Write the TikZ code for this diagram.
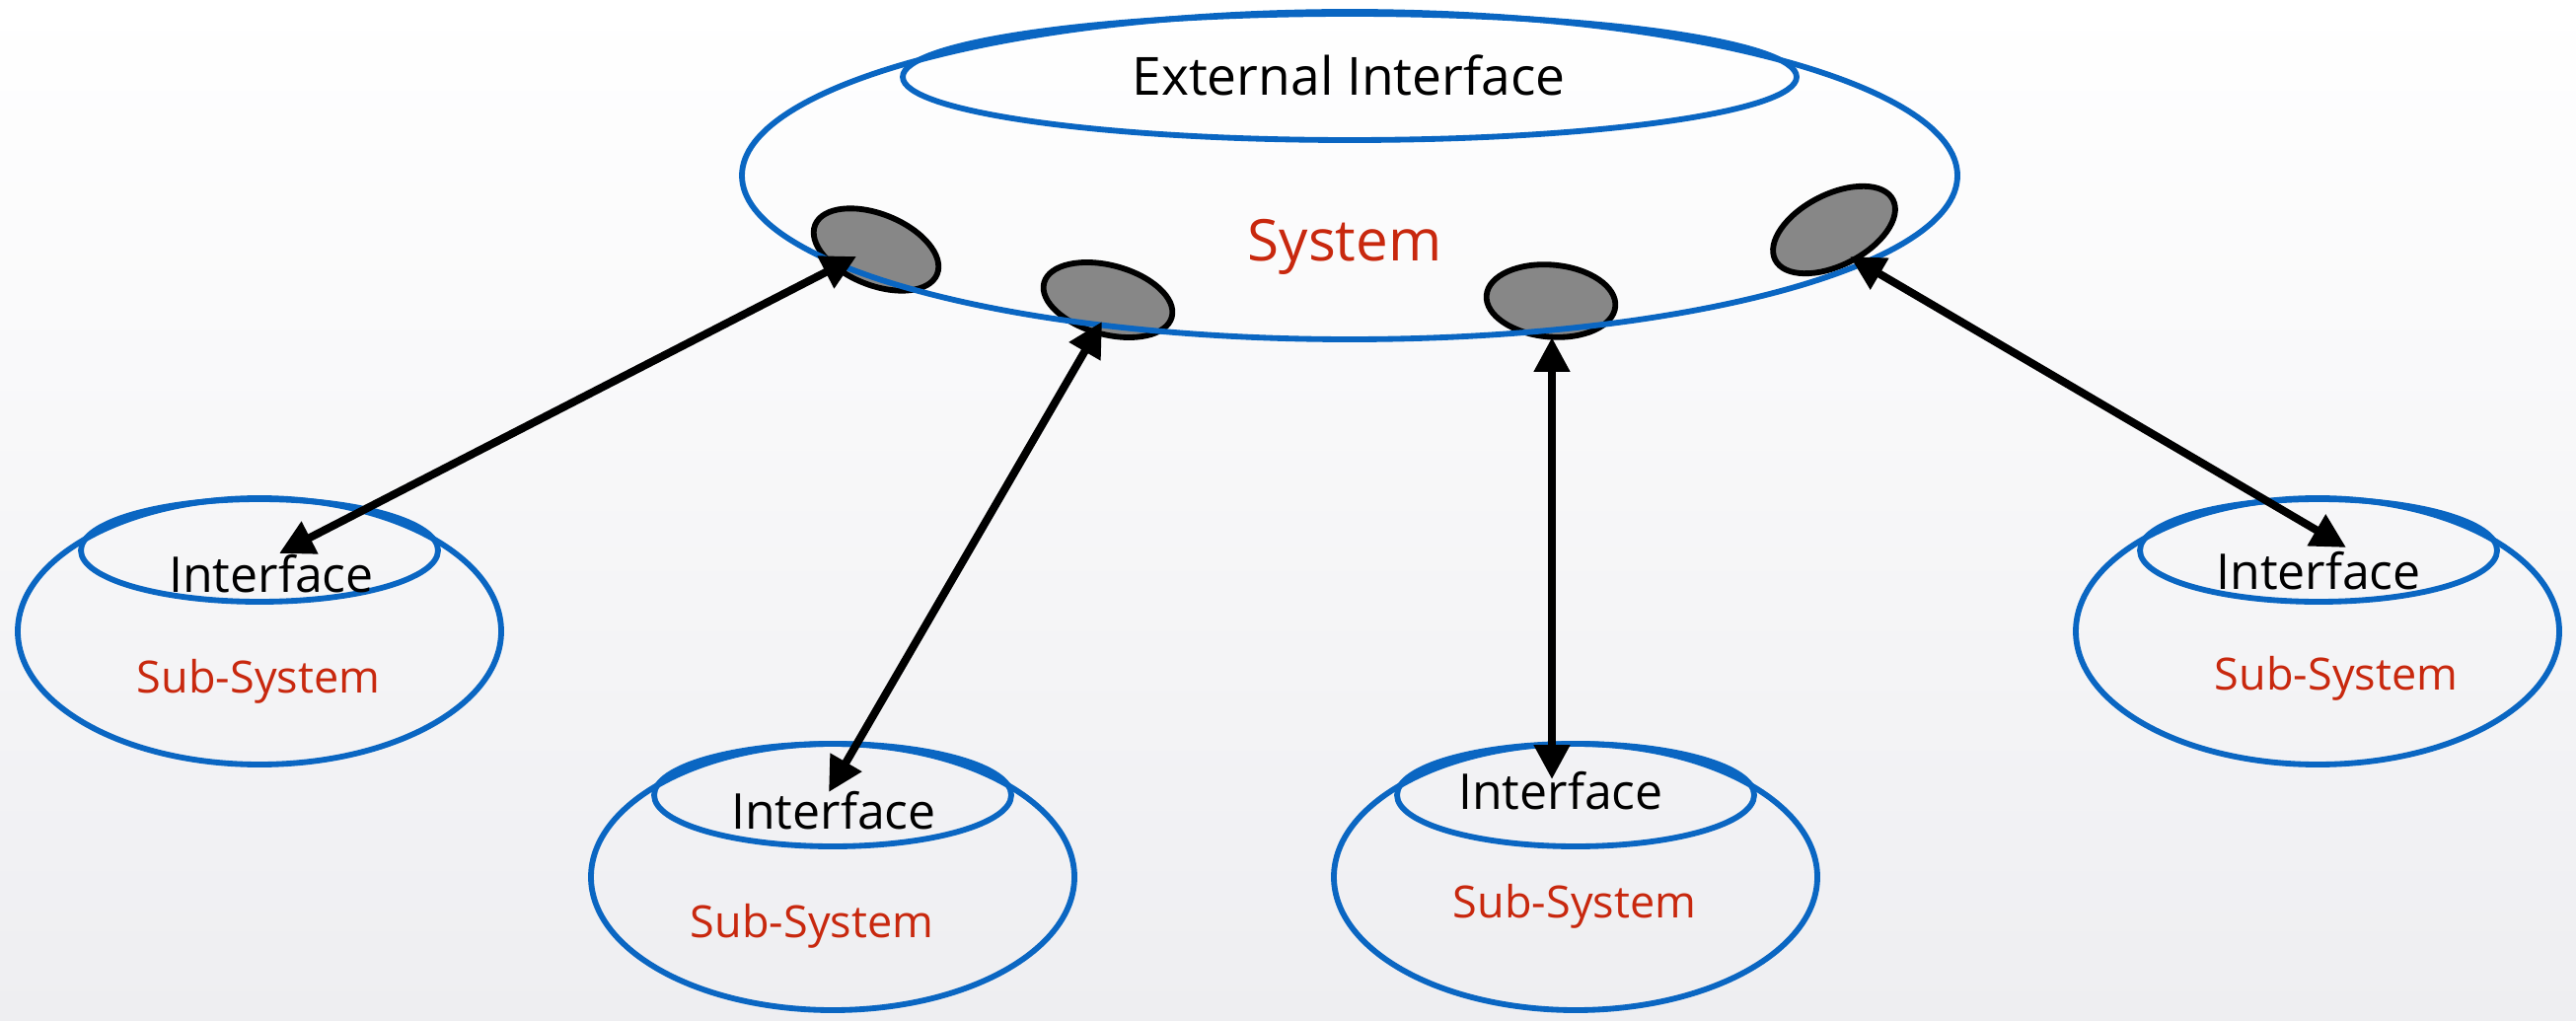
\documentclass[tikz,border=0pt]{standalone}
\usepackage{fontspec}
\setmainfont{Open Sans}
\usetikzlibrary{shapes.geometric,arrows.meta}
\definecolor{sysblue}{HTML}{0A66C2}
\definecolor{labelred}{HTML}{C8280E}
\definecolor{portgray}{HTML}{878787}
\definecolor{bggray}{HTML}{EEEEF1}
\begin{document}
\begin{tikzpicture}[x=0.3pt,y=-0.3pt,
  shell/.style={ellipse, draw=sysblue, line width=1.75pt, inner sep=0pt},
  subshell/.style={shell, minimum width=147pt, minimum height=81pt},
  ifcshell/.style={shell, minimum width=108.6pt, minimum height=31.2pt},
  port/.style={ellipse, draw=black, fill=portgray, line width=1.75pt, inner sep=0pt,
    minimum width=40pt, minimum height=21.6pt},
  link/.style={line width=2.4pt, {Triangle[length=10.5pt,width=10.5pt]}-{Triangle[length=10.5pt,width=10.5pt]}},
  ifctext/.style={anchor=base, font=\fontsize{15}{15}\selectfont, text=black, inner sep=0pt},
  subtext/.style={anchor=base, font=\fontsize{13.5}{13.5}\selectfont, text=labelred, inner sep=0pt}
]
% page and background
\useasboundingbox (0,0) rectangle (2611,1035);
\shade[top color=white, bottom color=bggray] (0,0) rectangle (2611,1035);

% ports on the rim of the system
\node[port, rotate=-22] (p1) at (888,253) {};
\node[port, rotate=-15, minimum width=40.2pt, minimum height=21pt] (p2) at (1123,304) {};
\node[port, rotate=-5, minimum width=39.3pt, minimum height=21.9pt] (p3) at (1572,305) {};
\node[port, rotate=27, minimum width=40.2pt] (p4) at (1859,233) {};

% the system and its external interface
\node[shell, minimum width=369.6pt, minimum height=99.6pt] (sys) at (1368,178) {};
\node[shell, minimum width=271.8pt, minimum height=38.4pt] (ext) at (1368,78) {};
\node[anchor=base, inner sep=0pt, font=\fontsize{16}{16}\selectfont] (extlabel) at (1367,97) {External Interface};
\node[anchor=base, inner sep=0pt, text=labelred, font=\fontsize{17.5}{17.5}\selectfont] (syslabel) at (1363,265) {System};

% sub-systems
\node[subshell] (ss1) at (263,640) {};
\node[ifcshell] (ifc1) at (263,558) {};
\node[ifctext] (il1) at (275,600) {Interface};
\node[subtext] (sl1) at (262,702) {Sub-System};

\node[subshell] (ss2) at (844,889) {};
\node[ifcshell] (ifc2) at (844,806) {};
\node[ifctext] (il2) at (845,840) {Interface};
\node[subtext] (sl2) at (823,950) {Sub-System};

\node[subshell] (ss3) at (1597,889) {};
\node[ifcshell] (ifc3) at (1597,806) {};
\node[ifctext] (il3) at (1582,820) {Interface};
\node[subtext] (sl3) at (1596,930) {Sub-System};

\node[subshell] (ss4) at (2349,640) {};
\node[ifcshell] (ifc4) at (2350,558) {};
\node[ifctext] (il4) at (2350,598) {Interface};
\node[subtext] (sl4) at (2368,700) {Sub-System};

% links between ports and sub-system interfaces
\draw[link] ([shift={(-20,7)}]p1.center) -- ([shift={(20,3)}]ifc1.center);
\draw[link] ([shift={(-6,22)}]p2.center) -- ([shift={(-4,-3)}]ifc2.center);
\draw[link] ([shift={(1,37)}]p3.center) -- ([shift={(-24,-16)}]ifc3.center);
\draw[link] ([shift={(16,27)}]p4.center) -- ([shift={(28,-3)}]ifc4.center);
\end{tikzpicture}
\end{document}
